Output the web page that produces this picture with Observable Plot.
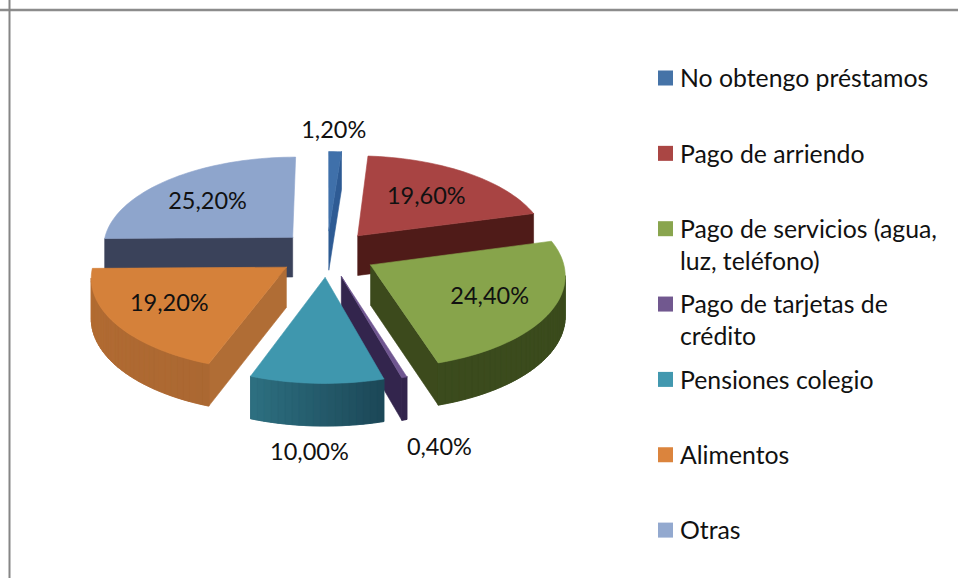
<!DOCTYPE html>
<html>
<head>
<meta charset="utf-8">
<script src="https://cdn.jsdelivr.net/npm/d3@7"></script>
<script src="https://cdn.jsdelivr.net/npm/@observablehq/plot@0.6"></script>
<style>html,body{margin:0;padding:0;background:#fff}svg{display:block}</style>
</head>
<body>
<div id="chart"></div>
<script>
// ---- data ----
const categories = ["No obtengo préstamos", "Pago de arriendo", "Pago de servicios (agua,\nluz, teléfono)", "Pago de tarjetas de\ncrédito", "Pensiones colegio", "Alimentos", "Otras"];
const values = [1.2, 19.6, 24.4, 0.4, 10.0, 19.2, 25.2];
const valueLabels = ["1,20%", "19,60%", "24,40%", "0,40%", "10,00%", "19,20%", "25,20%"];

// ---- styles ----
const legendColors = ["#4573a7", "#aa4644", "#89a54e", "#71588f", "#4298af", "#db843d", "#93a9cf"];
const topColors = ["#3f70aa", "#a84443", "#87a44b", "#6f5690", "#3f97ae", "#d5813a", "#8ea5cc"];
const radialWall = ["#2e5b94", "#4f1b18", "#3c4a1c", "#33254d", "#1d4a5a", "#b06d35", "#3a425a"];
const arcWallStart = ["#2e5b94", "#4f1b18", "#3b4b1d", "#33254d", "#1c4858", "#ab6832", "#3a425a"];
const arcWallEnd = ["#2e5b94", "#4f1b18", "#3b4b1d", "#33254d", "#2e7182", "#b46c33", "#3a425a"];
const labelRadius = [1.31, 0.62, 0.67, 1.57, 1.545, 0.68, 0.65];
const labelTurn = [-0.8, -0.6, -0.6, 1.2, 0.3, 3.1, -2.2];

// ---- pie geometry in the tilted plane ----
const center = [326.5, 253], spanX = 191, spanY = 90.9, perspective = 0.096, explode = 0.257, depth = 40;
const rad = d => d * Math.PI / 180;
function project(X, Y) {
  const s = 1 / (1 - perspective * Y);
  return {x: center[0] + spanX * X * s, y: center[1] + spanY * Y * s, s};
}
const dir = deg => [Math.sin(rad(deg)), -Math.cos(rad(deg))];
const drop = p => ({x: p.x, y: p.y + depth * Math.sqrt(p.s)});

const total = d3.sum(values);
let cum = 0;
const polys = [];
const labels = [];
const slices = values.map((v, i) => {
  const a0 = cum / total * 360; cum += v;
  const a1 = cum / total * 360;
  return {i, a0, a1, mid: (a0 + a1) / 2};
});
const paintOrder = [6, 1, 0, 5, 2, 3, 4];
function addPoly(id, pts, color) {
  [...pts, pts[0]].forEach(p => polys.push({id, x: p.x, y: p.y, color}));
}
for (const i of paintOrder) {
  const {a0, a1, mid} = slices[i];
  const [ox, oy] = dir(mid).map(d => d * explode);
  const apex = project(ox, oy);
  const steps = Math.max(2, Math.ceil((a1 - a0) / 2));
  const arc = d3.range(steps + 1).map(k => {
    const [dx, dy] = dir(a0 + (a1 - a0) * k / steps);
    return project(ox + dx, oy + dy);
  });
  const visible = (a, b) => b.x - a.x < -0.1 * Math.abs(b.y - a.y);
  const wall = (id, a, b, color) => addPoly(id, [a, b, drop(b), drop(a)], color);
  if (visible(apex, arc[0])) wall(`r0-${i}`, apex, arc[0], radialWall[i]);
  if (visible(arc[steps], apex)) wall(`r1-${i}`, arc[steps], apex, radialWall[i]);
  const mix = d3.interpolateRgb(arcWallStart[i], arcWallEnd[i]);
  const front = d3.range(steps).filter(k => arc[k + 1].x < arc[k].x);
  if (front.length) {
    const rim = [...front.map(k => arc[k]), arc[front[front.length - 1] + 1]];
    addPoly(`b-${i}`, [...rim, ...rim.map(drop).reverse()], d3.color(mix(0.5)).formatHex());
  }
  for (const k of front) {
    wall(`a-${i}-${k}`, arc[k], arc[k + 1], d3.color(mix(k / steps)).formatHex());
  }
  addPoly(`t-${i}`, [apex, ...arc], topColors[i]);
  const [lx, ly] = dir(mid + labelTurn[i]);
  const lp = project(ox + lx * labelRadius[i], oy + ly * labelRadius[i]);
  labels.push({x: lp.x, y: lp.y, text: valueLabels[i]});
}

// ---- legend ----
const legendX = 658, legendTop = 78, legendStep = 75.35, swatch = 15;
const legend = categories.map((name, i) => ({name, color: legendColors[i], y: legendTop + i * legendStep}));

const font = "Lato, 'Open Sans', sans-serif";
const chart = Plot.plot({
  width: 958, height: 578,
  margin: 0,
  x: {domain: [0, 958], range: [0, 958], axis: null},
  y: {domain: [0, 578], range: [0, 578], axis: null},
  color: {type: "identity"},
  style: {background: "#fff", fontFamily: font},
  marks: [
    Plot.ruleY([9.5], {stroke: "#8c8c8c", strokeWidth: 2.5}),
    Plot.ruleX([9], {stroke: "#868686", strokeWidth: 2}),
    Plot.line(polys, {x: "x", y: "y", z: "id", fill: "color", stroke: "color", strokeWidth: 0.6, curve: "linear"}),
    Plot.text(labels, {x: "x", y: "y", dy: 1, text: "text", fontSize: 23.5, fill: "#111", textAnchor: "middle"}),
    Plot.rect(legend, {
      x1: () => legendX, x2: () => legendX + swatch,
      y1: d => d.y - swatch / 2, y2: d => d.y + swatch / 2,
      fill: "color", inset: 0
    }),
    Plot.text(legend, {
      x: () => legendX + 21.5, y: d => d.y - 13.9, text: "name", textAnchor: "start", lineAnchor: "top",
      fontSize: 24.8, lineHeight: 1.29, fill: "#111"
    })
  ]
});
document.getElementById("chart").appendChild(chart);
</script>
</body>
</html>
